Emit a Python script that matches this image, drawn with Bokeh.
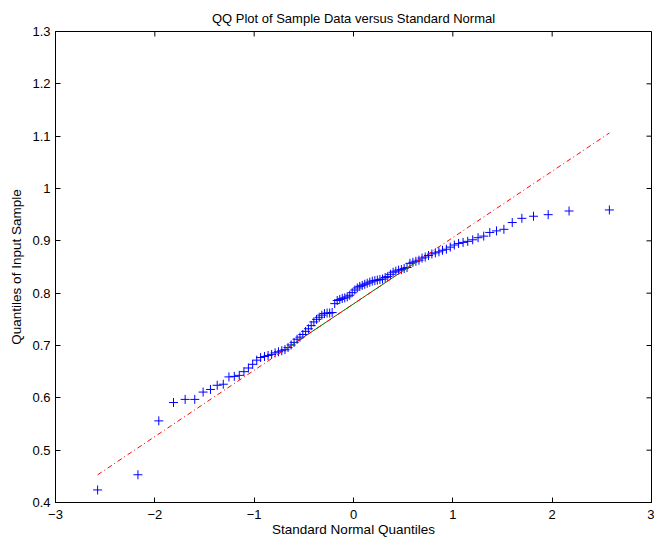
import numpy as np
from bokeh.plotting import figure
from bokeh.models import FixedTicker, Range1d
from bokeh.embed import file_html
from bokeh.resources import INLINE

# Theoretical standard normal quantiles at plotting positions (i - 0.5) / 100
normal_quantiles = [
    -2.576, -2.170, -1.960, -1.812, -1.695, -1.598, -1.514, -1.440, -1.372, -1.311,
    -1.254, -1.200, -1.150, -1.103, -1.058, -1.015, -0.974, -0.935, -0.896, -0.860,
    -0.824, -0.789, -0.755, -0.722, -0.690, -0.659, -0.628, -0.598, -0.568, -0.539,
    -0.510, -0.482, -0.454, -0.426, -0.399, -0.372, -0.345, -0.319, -0.292, -0.266,
    -0.240, -0.215, -0.189, -0.164, -0.138, -0.113, -0.088, -0.063, -0.038, -0.013,
    0.013, 0.038, 0.063, 0.088, 0.113, 0.138, 0.164, 0.189, 0.215, 0.240,
    0.266, 0.292, 0.319, 0.345, 0.372, 0.399, 0.426, 0.454, 0.482, 0.510,
    0.539, 0.568, 0.598, 0.628, 0.659, 0.690, 0.722, 0.755, 0.789, 0.824,
    0.860, 0.896, 0.935, 0.974, 1.015, 1.058, 1.103, 1.150, 1.200, 1.254,
    1.311, 1.372, 1.440, 1.514, 1.598, 1.695, 1.812, 1.960, 2.170, 2.576,
]

# Sorted sample values
sample_quantiles = [
    0.424, 0.453, 0.556, 0.591, 0.597, 0.597, 0.611, 0.616, 0.624, 0.626,
    0.640, 0.641, 0.643, 0.650, 0.657, 0.664, 0.672, 0.677, 0.679, 0.681,
    0.683, 0.686, 0.688, 0.690, 0.692, 0.696, 0.701, 0.706, 0.712, 0.716,
    0.721, 0.727, 0.732, 0.738, 0.745, 0.750, 0.754, 0.758, 0.761, 0.762,
    0.762, 0.763, 0.780, 0.786, 0.788, 0.790, 0.791, 0.793, 0.796, 0.801,
    0.806, 0.810, 0.813, 0.815, 0.817, 0.819, 0.821, 0.823, 0.824, 0.825,
    0.826, 0.827, 0.830, 0.832, 0.836, 0.840, 0.842, 0.844, 0.845, 0.847,
    0.849, 0.857, 0.859, 0.861, 0.863, 0.867, 0.869, 0.872, 0.875, 0.877,
    0.879, 0.882, 0.884, 0.888, 0.892, 0.895, 0.897, 0.899, 0.902, 0.906,
    0.909, 0.916, 0.919, 0.922, 0.935, 0.943, 0.947, 0.950, 0.957, 0.959,
]

x_ticks = [-3, -2, -1, 0, 1, 2, 3]
x_tick_labels = ["\u22123", "\u22122", "\u22121", "0", "1", "2", "3"]
y_ticks = [0.4, 0.5, 0.6, 0.7, 0.8, 0.9, 1.0, 1.1, 1.2, 1.3]
y_tick_labels = ["0.4", "0.5", "0.6", "0.7", "0.8", "0.9", "1", "1.1", "1.2", "1.3"]

FONT = "Liberation Sans"
X_MIN, X_MAX = -3, 3
Y_MIN, Y_MAX = 0.4, 1.3

x = np.array(normal_quantiles)
y = np.array(sample_quantiles)

# Reference line through the first and third quartiles
pz = np.array([-0.6745, 0.6745])
q1, q3 = np.percentile(y, [25, 75], method="hazen")
slope = (q3 - q1) / (pz[1] - pz[0])
centre = q1 - slope * pz[0]
line_x = np.array([x.min(), x.max()])
line_y = centre + slope * line_x

p = figure(
    width=654, height=542,
    x_range=Range1d(X_MIN, X_MAX), y_range=Range1d(Y_MIN, Y_MAX),
    output_backend="svg", toolbar_location=None,
    title="QQ Plot of Sample Data versus Standard Normal",
    min_border_left=55, min_border_right=3, min_border_top=31, min_border_bottom=40,
)
p.background_fill_color = "white"
p.border_fill_color = "white"
p.outline_line_color = "black"
p.outline_line_width = 1
p.xgrid.visible = False
p.ygrid.visible = False

p.title.align = "center"
p.title.text_font = FONT
p.title.text_font_size = "13px"
p.title.text_font_style = "normal"
p.title.text_color = "black"
p.title.standoff = 12


def style_axis(ax, ticks, labels):
    ax.ticker = FixedTicker(ticks=ticks)
    ax.minor_tick_line_color = None
    ax.major_tick_in = 5
    ax.major_tick_out = 0
    ax.major_tick_line_color = "black"
    ax.axis_line_color = "black"
    ax.major_label_overrides = {t: l for t, l in zip(ticks, labels)}
    ax.major_label_text_font = FONT
    ax.major_label_text_font_size = "13px"
    ax.major_label_text_color = "black"
    ax.axis_label_text_font = FONT
    ax.axis_label_text_font_size = "13.5px"
    ax.axis_label_text_font_style = "normal"
    ax.axis_label_text_color = "black"


xa = p.xaxis[0]
style_axis(xa, x_ticks, x_tick_labels)
xa.axis_label = "Standard Normal Quantiles"
xa.major_label_standoff = 7
xa.axis_label_standoff = 0

ya = p.yaxis[0]
style_axis(ya, y_ticks, y_tick_labels)
ya.axis_label = "Quantiles of Input Sample"
ya.major_label_standoff = 5
ya.axis_label_standoff = 5

# Inward tick marks on the top and right edges of the box
p.ray(x=x_ticks, y=[Y_MAX] * len(x_ticks), length=5, length_units="screen",
      angle=-np.pi / 2, line_color="black", line_width=1)
p.ray(x=[X_MAX] * len(y_ticks), y=y_ticks, length=5, length_units="screen",
      angle=np.pi, line_color="black", line_width=1)

# Sample points, the quartile segment and the extended reference line
p.scatter(x, y, marker="cross", size=9, line_color="#0000ff", line_width=1)
p.line(pz, centre + slope * pz, line_color="#008000", line_width=1)
p.line(line_x, line_y, line_color="#ff0000", line_width=1, line_dash="5 3 1 3")

open("out.html", "w").write(file_html(p, INLINE))
